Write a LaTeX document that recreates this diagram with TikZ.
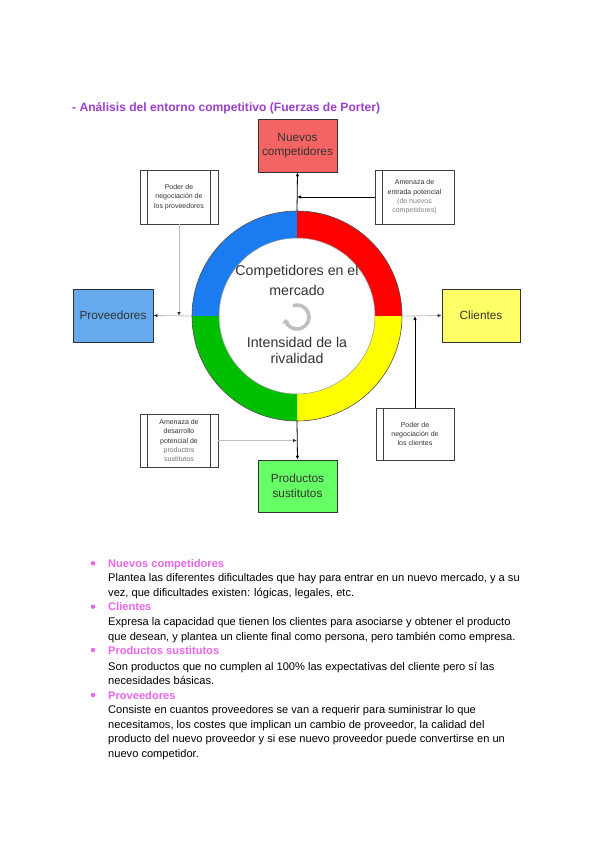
\documentclass[tikz,border=0pt]{standalone}
\usepackage{fontspec}
\setmainfont{Liberation Sans}
\usetikzlibrary{arrows.meta,calc}
\definecolor{titlepurple}{HTML}{9D3FCB}
\definecolor{headpink}{HTML}{E866E8}
\definecolor{boxred}{HTML}{F46464}
\definecolor{boxblue}{HTML}{66AAF0}
\definecolor{boxyellow}{HTML}{FFFF66}
\definecolor{boxgreen}{HTML}{66FF66}
\definecolor{ringblue}{HTML}{1A7CF0}
\definecolor{ringred}{HTML}{FF0000}
\definecolor{ringyellow}{HTML}{FFFF00}
\definecolor{ringgreen}{HTML}{00BF00}
\begin{document}
\begin{tikzpicture}[x=1pt,y=-1pt,
  mainbox/.style={draw=black!80, line width=0.8pt, minimum width=79pt, minimum height=53pt,
    inner sep=0pt, align=center, font=\fontsize{11.8}{14.5}\selectfont, text=black!80},
  notebox/.style={draw=black!75, line width=0.7pt, fill=white, minimum width=78pt, minimum height=54pt,
    inner sep=0pt, align=center, font=\fontsize{7}{9.3}\selectfont, text=black!80},
  leftbar/.style={path picture={\draw[black!75, line width=0.8pt]
    ([xshift=7.5pt]path picture bounding box.north west) -- ([xshift=7.5pt]path picture bounding box.south west);}},
  bothbars/.style={path picture={\draw[black!75, line width=0.8pt]
    ([xshift=7.5pt]path picture bounding box.north west) -- ([xshift=7.5pt]path picture bounding box.south west)
    ([xshift=-7.5pt]path picture bounding box.north east) -- ([xshift=-7.5pt]path picture bounding box.south east);}},
  darkarrow/.style={draw=black, line width=0.8pt, -{Latex[length=4pt,width=3.5pt]}},
  lightarrow/.style={draw=black!25, line width=0.8pt, -{Latex[length=4pt,width=3.5pt,color=black!80]}},
  ringtext/.style={font=\fontsize{14.2}{17}\selectfont, text=black!80},
  bodytext/.style={anchor=base west, inner sep=0pt, font=\fontsize{11.1}{13}\selectfont, text=black},
  headtext/.style={anchor=base west, inner sep=0pt, font=\fontsize{11.1}{13}\selectfont\bfseries, text=headpink},
]
\useasboundingbox (0,0) rectangle (600,848);
\fill[white] (0,0) rectangle (600,848);

% title
\node[anchor=base west, inner sep=0pt, font=\fontsize{12.1}{14}\selectfont\bfseries, text=titlepurple]
  (title) at (72,112) {- Análisis del entorno competitivo (Fuerzas de Porter)};

% ring
\coordinate (c) at (297,316);
\node[circle, minimum size=210pt, inner sep=0pt] (ring) at (c) {};
\fill[ringblue]   ($(c)+(180:105)$) arc[start angle=180, end angle=270, radius=105] -- ($(c)+(270:78)$) arc[start angle=270, end angle=180, radius=78] -- cycle;
\fill[ringred]    ($(c)+(270:105)$) arc[start angle=270, end angle=360, radius=105] -- ($(c)+(0:78)$) arc[start angle=360, end angle=270, radius=78] -- cycle;
\fill[ringyellow] ($(c)+(0:105)$) arc[start angle=0, end angle=90, radius=105] -- ($(c)+(90:78)$) arc[start angle=90, end angle=0, radius=78] -- cycle;
\fill[ringgreen]  ($(c)+(90:105)$) arc[start angle=90, end angle=180, radius=105] -- ($(c)+(180:78)$) arc[start angle=180, end angle=90, radius=78] -- cycle;
\draw[black!70, line width=0.6pt] (c) circle[radius=105];
\draw[black!40, line width=0.5pt] (c) circle[radius=78];

\node[ringtext] (comp1) at (297,272) {Competidores en el};
\node[ringtext] (comp2) at (297,290) {mercado};
\node[ringtext] (int1) at (297,342) {Intensidad de la};
\node[ringtext] (int2) at (297,358) {rivalidad};
\draw[black!25, line width=3.6pt, -{Triangle[length=4pt,width=8pt]}]
  ($(297,317)+(-110:12)$) arc[start angle=-110, end angle=170, radius=12];

% main boxes
\node[mainbox, fill=boxred] (nuevos) at (297.5,145.5) {Nuevos\\competidores};
\node[mainbox, fill=boxblue, minimum width=80pt] (prov) at (113,315.5) {Proveedores};
\node[mainbox, fill=boxyellow, minimum width=78pt] (cli) at (481,315.5) {Clientes};
\node[mainbox, fill=boxgreen, minimum height=52pt] (prod) at (297.5,486) {Productos\\sustitutos};

% note boxes
\node[notebox, bothbars] (provnote) at (179,197) {Poder de\\negociación de\\los proveedores};
\node[notebox, leftbar, minimum width=79pt] (entnote) at (414.5,197)
  {Amenaza de\\entrada potencial\\{\color{black!50}(de nuevos}\\{\color{black!50}competidores)}};
\node[notebox, bothbars, minimum height=53pt] (sustnote) at (179,440.5)
  {Amenaza de\\desarrollo\\potencial de\\{\color{black!55}productos}\\{\color{black!55}sustitutos}};
\node[notebox, leftbar, minimum height=52pt] (clinote) at (415,434) {Poder de\\negociación de\\los clientes};

% connectors
\draw[darkarrow] (ring.north) -- (nuevos.south);
\draw[darkarrow] (entnote.west) -- (entnote.west -| ring.north);
\draw[lightarrow] (ring.west) -- (prov.east);
\draw[lightarrow] (provnote.south) -- (provnote.south |- ring.west);
\draw[lightarrow] (ring.east) -- (cli.west);
\draw[darkarrow] (clinote.north) -- (clinote.north |- ring.east);
\draw[darkarrow] (ring.south) -- (prod.north);
\draw[lightarrow] (sustnote.east) -- (sustnote.east -| ring.south);

% text below
\foreach \y in {563.3,606.7,650,695} \fill[headpink] (93,\y) circle[radius=2.2];
\node[headtext] (h1) at (108,567.3) {Nuevos competidores};
\node[bodytext] (t1a) at (108,581.3) {Plantea las diferentes dificultades que hay para entrar en un nuevo mercado, y a su};
\node[bodytext] (t1b) at (108,596.7) {vez, que dificultades existen: lógicas, legales, etc.};
\node[headtext] (h2) at (108,610.7) {Clientes};
\node[bodytext] (t2a) at (108,625.7) {Expresa la capacidad que tienen los clientes para asociarse y obtener el producto};
\node[bodytext] (t2b) at (108,640.7) {que desean, y plantea un cliente final como persona, pero también como empresa.};
\node[headtext] (h3) at (108,654) {Productos sustitutos};
\node[bodytext] (t3a) at (108,670.7) {Son productos que no cumplen al 100\% las expectativas del cliente pero sí las};
\node[bodytext] (t3b) at (108,684) {necesidades básicas.};
\node[headtext] (h4) at (108,699) {Proveedores};
\node[bodytext] (t4a) at (108,713.3) {Consiste en cuantos proveedores se van a requerir para suministrar lo que};
\node[bodytext] (t4b) at (108,728) {necesitamos, los costes que implican un cambio de proveedor, la calidad del};
\node[bodytext] (t4c) at (108,742.3) {producto del nuevo proveedor y si ese nuevo proveedor puede convertirse en un};
\node[bodytext] (t4d) at (108,757.3) {nuevo competidor.};
\end{tikzpicture}
\end{document}
